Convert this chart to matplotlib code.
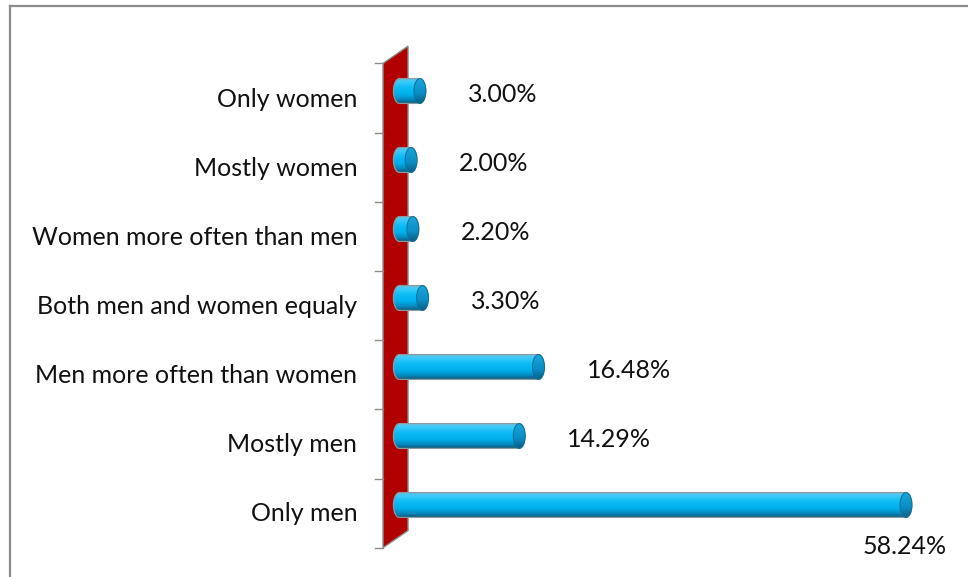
import numpy as np
import matplotlib
matplotlib.use('Agg')
import matplotlib.pyplot as plt
from matplotlib.colors import LinearSegmentedColormap
from matplotlib.patches import Polygon, Ellipse
from matplotlib.lines import Line2D

# data, bottom row first
categories = ['Only men', 'Mostly men', 'Men more often than women',
              'Both men and women equaly', 'Women more often than men',
              'Mostly women', 'Only women']
values = [58.24, 14.29, 16.48, 3.30, 2.20, 2.00, 3.00]
value_labels = ['58.24%', '14.29%', '16.48%', '3.30%', '2.20%', '2.00%', '3.00%']

W, H = 968, 577
FONT = 'Lato'
FS = 18

fig = plt.figure(figsize=(W / 100, H / 100), dpi=100)

# axes placed so that 0 sits at x=399px, 8.8px per unit, 69px per row
x_zero, px_per = 399.4, 8.8
xmin, xmax = -5, 60
y0_px, row_px = 505, 69
ylo, yhi = -0.6, 6.6
left = (x_zero + xmin * px_per) / W
width = (xmax - xmin) * px_per / W
bottom = 1 - (y0_px - ylo * row_px) / H
height = (yhi - ylo) * row_px / H
ax = fig.add_axes([left, bottom, width, height])
ax.set_xlim(xmin, xmax)
ax.set_ylim(ylo, yhi)
ax.axis('off')

# chart border (top and left visible)
fig.add_artist(Line2D([10 / W, 1], [1 - 6 / H, 1 - 6 / H], color='#8c8c8c', lw=1.6,
                      transform=fig.transFigure))
fig.add_artist(Line2D([10 / W, 10 / W], [1 - 6 / H, 0], color='#8c8c8c', lw=1.6,
                      transform=fig.transFigure))

# red 3D wall behind bars
n = len(categories)
wall_x0 = -1.86
wall_dx, wall_dy = 2.84, 0.25
wall_b, wall_t = -0.62, n - 0.6
wall = Polygon([(wall_x0, wall_b), (wall_x0 + wall_dx, wall_b + wall_dy),
                (wall_x0 + wall_dx, wall_t + wall_dy), (wall_x0, wall_t)],
               closed=True, facecolor='#b00000', edgecolor='#8a8a8a', lw=1.0,
               clip_on=False, zorder=1)
ax.add_patch(wall)

# tick marks on the wall's left edge
for k in range(n + 1):
    yk = wall_b + k * (wall_t - wall_b) / n
    ax.plot([wall_x0 - 0.9, wall_x0], [yk, yk], color='#8a8a8a', lw=1.0,
            clip_on=False, zorder=1)

# cylinder bars
cyl = LinearSegmentedColormap.from_list('cyl', [
    (0.0, '#0d5a7a'), (0.14, '#0588bd'), (0.35, '#00b0ec'),
    (0.62, '#0dbcf5'), (0.85, '#3ccaf8'), (1.0, '#6cc3e0')])
cap_cm = LinearSegmentedColormap.from_list('cap', [
    (0.0, '#0b5f82'), (0.4, '#0a8ec5'), (1.0, '#1aa6dc')])
bar_h = 0.36
cap_w = 1.35
grad = np.linspace(0, 1, 200).reshape(-1, 1)
t = np.linspace(-np.pi / 2, np.pi / 2, 60)

for i, v in enumerate(values):
    xe = v - cap_w / 2
    rx, ry = cap_w / 2, bar_h / 2
    right = np.column_stack([xe + rx * np.cos(t), i + ry * np.sin(t)])
    leftc = np.column_stack([-rx * np.cos(t[::-1]), i + ry * np.sin(t[::-1])])
    outline = Polygon(np.vstack([right, leftc]), closed=True, facecolor='none',
                      edgecolor='#8a9aa0', lw=0.9, zorder=4)
    ax.add_patch(outline)
    im = ax.imshow(grad, cmap=cyl, aspect='auto', origin='lower',
                   extent=[-rx, v, i - ry, i + ry], zorder=3,
                   interpolation='bilinear')
    im.set_clip_path(outline)
    # end cap, shaded darker
    cap = Ellipse((xe, i), cap_w, bar_h, facecolor='none',
                  edgecolor='#0a6f9c', lw=0.7, zorder=5)
    ax.add_patch(cap)
    cim = ax.imshow(grad, cmap=cap_cm, aspect='auto', origin='lower',
                    extent=[xe - rx, v, i - ry, i + ry], zorder=4.5,
                    interpolation='bilinear')
    cim.set_clip_path(cap)

# category labels
for i, c in enumerate(categories):
    ax.text(-4.8, i - 0.13, c, ha='right', va='center', fontsize=FS,
            family=FONT, color='#111111', clip_on=False)

# value labels
for i, (v, lab) in enumerate(zip(values, value_labels)):
    if v > 50:
        ax.text(v - 0.8, i - 0.6, lab, ha='center', va='center', fontsize=FS,
                family=FONT, color='#111111', clip_on=False)
    else:
        ax.text(v + 4.8, i - 0.05, lab, ha='left', va='center', fontsize=FS,
                family=FONT, color='#111111', clip_on=False)

fig.savefig('out.png', dpi=100, facecolor='white')
